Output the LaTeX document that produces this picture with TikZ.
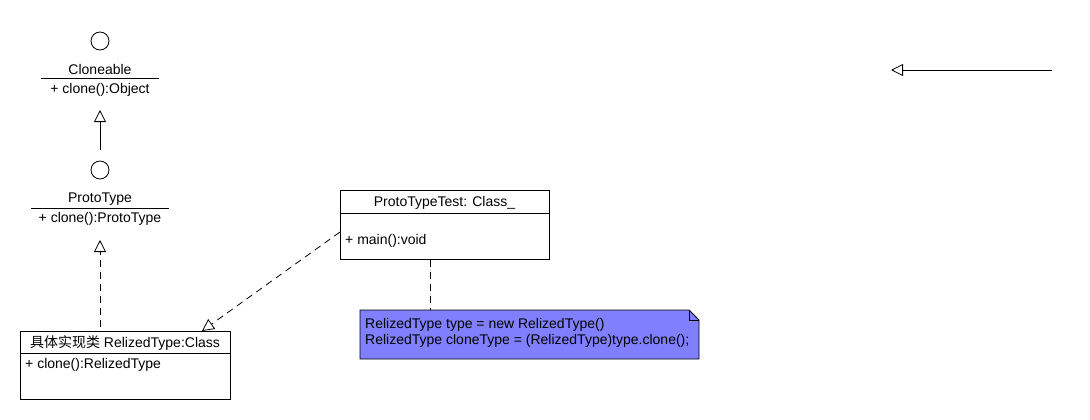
\documentclass[tikz,border=0pt]{standalone}
\usepackage{fontspec}
\setmainfont{Liberation Sans}
\newfontfamily\cjk{Noto Sans CJK SC}
\usepackage{tikz}
\usetikzlibrary{arrows.meta,positioning}
\definecolor{notefill}{RGB}{128,128,255}

\begin{document}
\begin{tikzpicture}[x=1pt,y=-1pt,font=\fontsize{14}{16}\selectfont,
  iface/.style={draw,circle,minimum size=18pt,inner sep=0pt,line width=0.8pt},
  lbl/.style={inner sep=0pt,anchor=center},
  oplbl/.style={inner sep=0pt,anchor=west},
  clsbox/.style={draw,line width=0.8pt,anchor=north west,inner sep=0pt},
  gen/.style={-{Triangle[open,length=12pt,width=12pt]},line width=0.8pt},
  real/.style={gen,dash pattern=on 7pt off 5pt},
  anchorline/.style={line width=0.8pt,dash pattern=on 7pt off 5pt}]
\useasboundingbox (0,0) rectangle (1090,420);
% Cloneable interface
\node[iface] (cloneCirc) at (100,41) {};
\node[lbl] (cloneName) at (100,69) {Cloneable};
\draw[line width=0.8pt] (41,78) -- (159,78);
\node[lbl] (cloneOp) at (100,90) {+ clone():Object};
% ProtoType interface
\node[iface] (protoCirc) at (100,170) {};
\node[lbl] (protoName) at (100,199) {ProtoType};
\draw[line width=0.8pt] (31,208) -- (169,208);
\node[lbl] (protoOp) at (100,219) {+ clone():ProtoType};
% RelizedType class
\node[clsbox,minimum width=210pt,minimum height=68pt] (relBox) at (20,331) {};
\draw[line width=0.8pt] (20,353) -- (230,353);
\node[lbl] (relName) at (125,343) {{\cjk 具体实现类} RelizedType:Class};
\node[oplbl] (relOp) at (25,365) {+ clone():RelizedType};
% ProtoTypeTest class
\node[clsbox,minimum width=209pt,minimum height=69pt] (testBox) at (340,190) {};
\draw[line width=0.8pt] (340,213) -- (549,213);
\node[lbl] (testName) at (444.5,203) {ProtoTypeTest: Class\_};
\node[oplbl] (testOp) at (345,241) {+ main():void};
% note
\draw[line width=0.8pt,fill=notefill] (360,310) -- (689,310) -- (699,320) -- (699,359)
  -- (360,359) -- cycle;
\draw[line width=0.8pt] (689,310) -- (689,320) -- (699,320);
\node[oplbl,align=left] (note) at (365,333)
  {RelizedType type = new RelizedType()\\[0pt]
   RelizedType cloneType = (RelizedType)type.clone();};
% connectors
\coordinate (genTail) at (100,150);
\coordinate (genHead) at (100,110);
\draw[gen] (genTail) -- (genHead);
\coordinate (realTail) at (100,327);
\coordinate (realHead) at (100,240);
\draw[real] (realTail) -- (realHead);
\coordinate (useTail) at (340,232);
\coordinate (useHead) at (202,331);
\draw[real] (useTail) -- (useHead);
\coordinate (noteTop) at (430,310);
\draw[anchorline] (430,260) -- (noteTop);
\coordinate (lonelyTail) at (1052,70);
\coordinate (lonelyHead) at (891,70);
\draw[gen] (lonelyTail) -- (lonelyHead);
\end{tikzpicture}
\end{document}
